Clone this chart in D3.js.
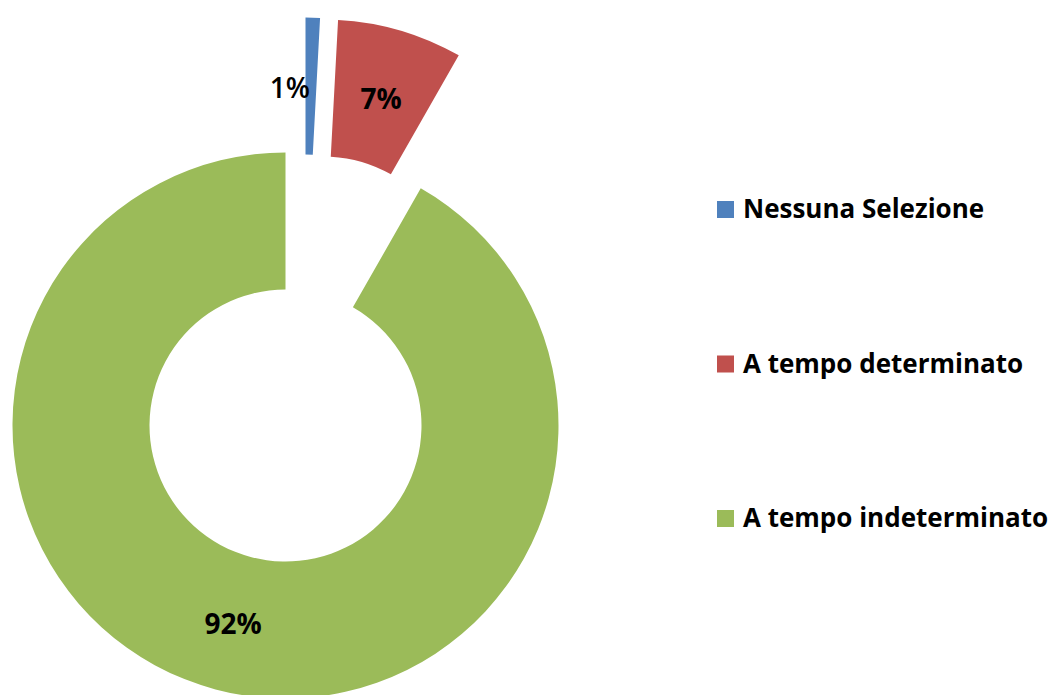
<!DOCTYPE html>
<html>
<head>
<meta charset="utf-8">
<script src="https://cdn.jsdelivr.net/npm/d3@7"></script>
<style>
  body { margin: 0; background: #fff; }
  text { font-family: "Open Sans", Lato, sans-serif; }
</style>
</head>
<body>
<div id="chart"></div>
<script>
// categories and their shares (percent)
let categories = ["Nessuna Selezione", "A tempo determinato", "A tempo indeterminato"];
let shares = [0.85, 7.4, 91.75];
let colors = ["#4F81BD", "#C0504D", "#9BBB59"];

let width = 1061;
let height = 695;

// layout of the donut
let cx = 285.5, cy = 425.5;
let outerR = 273, innerR = 136;
// how far each slice is pulled out from the centre (px)
let explode = [[20, -135], [38, -133], [0, 0]];
// the tiny slice gets its label pushed to the left
let labelNudge = [[-21, 1], [0, 2], [0, 0]];
let labelWeight = [600, "bold", "bold"];

let svg = d3.select("#chart")
  .append("svg")
  .attr("width", width).attr("height", height);

let data = categories.map((c, i) => ({ name: c, value: shares[i], i: i }));
let total = d3.sum(shares);

let pie = d3.pie()
  .value(d => d.value)
  .sort(null);

let arc = d3.arc()
  .innerRadius(innerR)
  .outerRadius(outerR);

let arcs = pie(data);

let slices = svg.append("g")
  .attr("transform", `translate(${cx}, ${cy})`)
  .selectAll("g")
  .data(arcs)
  .enter()
  .append("g")
  .attr("transform", d => `translate(${explode[d.data.i][0]}, ${explode[d.data.i][1]})`);

slices.append("path")
  .attr("d", arc)
  .attr("fill", d => colors[d.data.i]);

// percent labels at the middle of each ring segment
slices.append("text")
  .attr("x", d => arc.centroid(d)[0] + labelNudge[d.data.i][0])
  .attr("y", d => arc.centroid(d)[1] + labelNudge[d.data.i][1])
  .attr("text-anchor", "middle")
  .attr("dominant-baseline", "central")
  .attr("font-size", 28)
  .attr("font-weight", d => labelWeight[d.data.i])
  .attr("fill", "#000")
  .text(d => Math.round(d.data.value / total * 100) + "%");

// legend
let legendY = d3.scalePoint()
  .domain(categories)
  .range([209, 518]);

let legend = svg.append("g")
  .selectAll("g")
  .data(categories)
  .enter()
  .append("g")
  .attr("transform", d => `translate(717, ${legendY(d)})`);

legend.append("rect")
  .attr("x", 0)
  .attr("y", -8)
  .attr("width", 17)
  .attr("height", 17)
  .attr("fill", (d, i) => colors[i]);

legend.append("text")
  .attr("x", 26)
  .attr("y", 9)
  .attr("font-size", 26)
  .attr("font-weight", "bold")
  .attr("fill", "#000")
  .text(d => d);
</script>
</body>
</html>
